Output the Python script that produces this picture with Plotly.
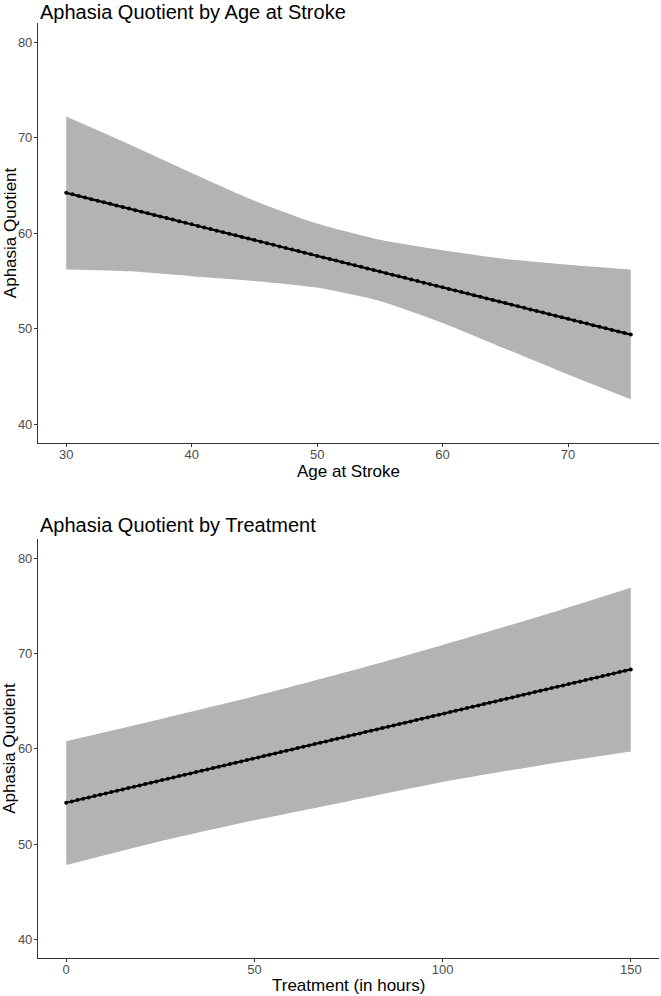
import plotly.graph_objects as go

# ---------------- data: top panel (Age at Stroke) ----------------
age = [30, 30.5, 31, 31.5, 32, 32.5, 33, 33.5, 34, 34.5, 35, 35.5, 36, 36.5, 37, 37.5,
       38, 38.5, 39, 39.5, 40, 40.5, 41, 41.5, 42, 42.5, 43, 43.5, 44, 44.5, 45, 45.5,
       46, 46.5, 47, 47.5, 48, 48.5, 49, 49.5, 50, 50.5, 51, 51.5, 52, 52.5, 53, 53.5,
       54, 54.5, 55, 55.5, 56, 56.5, 57, 57.5, 58, 58.5, 59, 59.5, 60, 60.5, 61, 61.5,
       62, 62.5, 63, 63.5, 64, 64.5, 65, 65.5, 66, 66.5, 67, 67.5, 68, 68.5, 69, 69.5,
       70, 70.5, 71, 71.5, 72, 72.5, 73, 73.5, 74, 74.5, 75]
aq_age = [64.22, 64.06, 63.89, 63.73, 63.56, 63.40, 63.23, 63.07, 62.90, 62.74,
          62.57, 62.41, 62.24, 62.08, 61.91, 61.75, 61.58, 61.42, 61.25, 61.09,
          60.92, 60.76, 60.59, 60.43, 60.26, 60.10, 59.93, 59.77, 59.60, 59.44,
          59.27, 59.11, 58.94, 58.78, 58.61, 58.45, 58.28, 58.12, 57.95, 57.79,
          57.62, 57.46, 57.29, 57.13, 56.96, 56.80, 56.63, 56.47, 56.30, 56.14,
          55.98, 55.81, 55.65, 55.48, 55.32, 55.15, 54.99, 54.82, 54.66, 54.49,
          54.33, 54.16, 54.00, 53.83, 53.67, 53.50, 53.34, 53.17, 53.01, 52.84,
          52.68, 52.51, 52.35, 52.18, 52.02, 51.85, 51.69, 51.52, 51.36, 51.19,
          51.03, 50.86, 50.70, 50.53, 50.37, 50.20, 50.04, 49.87, 49.71, 49.54,
          49.38]
band_age = [30, 35, 40, 45, 50, 55, 60, 65, 70, 75]
band_age_upper = [72.2, 69.3, 66.3, 63.4, 61.0, 59.3, 58.2, 57.3, 56.7, 56.2]
band_age_lower = [56.2, 56.0, 55.5, 55.0, 54.3, 52.9, 50.6, 47.9, 45.2, 42.6]

# ---------------- data: bottom panel (Treatment) ----------------
treat = [0, 1.5, 3, 4.5, 6, 7.5, 9, 10.5, 12, 13.5, 15, 16.5, 18, 19.5, 21, 22.5,
         24, 25.5, 27, 28.5, 30, 31.5, 33, 34.5, 36, 37.5, 39, 40.5, 42, 43.5, 45,
         46.5, 48, 49.5, 51, 52.5, 54, 55.5, 57, 58.5, 60, 61.5, 63, 64.5, 66, 67.5,
         69, 70.5, 72, 73.5, 75, 76.5, 78, 79.5, 81, 82.5, 84, 85.5, 87, 88.5, 90,
         91.5, 93, 94.5, 96, 97.5, 99, 100.5, 102, 103.5, 105, 106.5, 108, 109.5, 111,
         112.5, 114, 115.5, 117, 118.5, 120, 121.5, 123, 124.5, 126, 127.5, 129, 130.5,
         132, 133.5, 135, 136.5, 138, 139.5, 141, 142.5, 144, 145.5, 147, 148.5, 150]
aq_treat = [54.33, 54.47, 54.61, 54.75, 54.89, 55.03, 55.17, 55.31, 55.45, 55.59,
            55.73, 55.87, 56.01, 56.15, 56.29, 56.43, 56.57, 56.71, 56.85, 56.99,
            57.13, 57.27, 57.41, 57.55, 57.69, 57.83, 57.97, 58.11, 58.25, 58.39,
            58.53, 58.67, 58.81, 58.95, 59.09, 59.23, 59.37, 59.51, 59.65, 59.79,
            59.93, 60.07, 60.21, 60.35, 60.49, 60.63, 60.77, 60.91, 61.05, 61.19,
            61.33, 61.47, 61.61, 61.75, 61.89, 62.03, 62.17, 62.31, 62.45, 62.59,
            62.73, 62.87, 63.01, 63.15, 63.29, 63.43, 63.57, 63.71, 63.85, 63.99,
            64.13, 64.27, 64.41, 64.55, 64.69, 64.83, 64.97, 65.11, 65.25, 65.39,
            65.53, 65.67, 65.81, 65.95, 66.09, 66.23, 66.37, 66.51, 66.65, 66.79,
            66.93, 67.07, 67.21, 67.35, 67.49, 67.63, 67.77, 67.91, 68.05, 68.19,
            68.33]
band_treat = [0, 25, 50, 75, 100, 125, 150]
band_treat_upper = [60.8, 63.1, 65.5, 68.1, 70.9, 73.8, 76.9]
band_treat_lower = [47.8, 50.3, 52.5, 54.5, 56.5, 58.2, 59.7]

y_ticks = [40, 50, 60, 70, 80]
age_ticks = [30, 40, 50, 60, 70]
treat_ticks = [0, 50, 100, 150]

titles = ["Aphasia Quotient by Age at Stroke", "Aphasia Quotient by Treatment"]
x_titles = ["Age at Stroke", "Treatment (in hours)"]
y_title = "Aphasia Quotient"

# ---------------- figure ----------------
W, H = 661, 996
FONT = "Liberation Sans, Arial, Helvetica, sans-serif"
BAND = "#B3B3B3"

fig = go.Figure()

def add_panel(fig, bx, bu, bl, x, y, xa, ya):
    fig.add_trace(go.Scatter(x=bx, y=bl, mode="lines", line=dict(width=0, shape="spline", smoothing=0.6),
                             xaxis=xa, yaxis=ya, showlegend=False, hoverinfo="skip"))
    fig.add_trace(go.Scatter(x=bx, y=bu, mode="lines", line=dict(width=0, shape="spline", smoothing=0.6),
                             fill="tonexty", fillcolor=BAND,
                             xaxis=xa, yaxis=ya, showlegend=False, hoverinfo="skip"))
    fig.add_trace(go.Scatter(x=x, y=y, mode="lines+markers",
                             line=dict(color="black", width=2.2),
                             marker=dict(color="black", size=4),
                             xaxis=xa, yaxis=ya, showlegend=False))

add_panel(fig, band_age, band_age_upper, band_age_lower, age, aq_age, "x", "y")
add_panel(fig, band_treat, band_treat_upper, band_treat_lower, treat, aq_treat, "x2", "y2")

x0, x1 = 38 / W, 659 / W
top_dom = [1 - 443.3 / H, 1 - 23 / H]
bot_dom = [1 - 958.3 / H, 1 - 539.2 / H]

axis_common = dict(showline=True, linecolor="#333333", linewidth=1.1, ticks="outside",
                   ticklen=3, tickcolor="#333333", tickwidth=1, showgrid=False, zeroline=False,
                   tickfont=dict(family=FONT, size=13, color="#4D4D4D"), mirror=False)

fig.update_layout(
    width=W, height=H,
    margin=dict(l=0, r=0, t=0, b=0),
    paper_bgcolor="white", plot_bgcolor="white",
    xaxis=dict(domain=[x0, x1], range=[27.75, 77.25], tickvals=age_ticks, anchor="y",
               ticklabelstandoff=-4, **axis_common),
    yaxis=dict(domain=top_dom, range=[38, 82], tickvals=y_ticks, anchor="x",
               ticklabelstandoff=-1, **axis_common),
    xaxis2=dict(domain=[x0, x1], range=[-7.5, 157.5], tickvals=treat_ticks, anchor="y2",
                ticklabelstandoff=-4, **axis_common),
    yaxis2=dict(domain=bot_dom, range=[38, 82], tickvals=y_ticks, anchor="x2",
                ticklabelstandoff=-1, **axis_common),
)

ann = []
# panel titles
ann.append(dict(text=titles[0], x=x0, y=1 - 12 / H, xref="paper", yref="paper",
                xanchor="left", yanchor="middle", showarrow=False,
                font=dict(family=FONT, size=20, color="black")))
ann.append(dict(text=titles[1], x=x0, y=1 - 525 / H, xref="paper", yref="paper",
                xanchor="left", yanchor="middle", showarrow=False,
                font=dict(family=FONT, size=20, color="black")))
# x titles
ann.append(dict(text=x_titles[0], x=(x0 + x1) / 2, y=1 - 471 / H, xref="paper", yref="paper",
                xanchor="center", yanchor="middle", showarrow=False,
                font=dict(family=FONT, size=17, color="black")))
ann.append(dict(text=x_titles[1], x=(x0 + x1) / 2, y=1 - 985 / H, xref="paper", yref="paper",
                xanchor="center", yanchor="middle", showarrow=False,
                font=dict(family=FONT, size=17, color="black")))
# y titles
ann.append(dict(text=y_title, x=10 / W, y=sum(top_dom) / 2, xref="paper", yref="paper",
                xanchor="center", yanchor="middle", showarrow=False, textangle=-90,
                font=dict(family=FONT, size=17, color="black")))
ann.append(dict(text=y_title, x=10 / W, y=sum(bot_dom) / 2, xref="paper", yref="paper",
                xanchor="center", yanchor="middle", showarrow=False, textangle=-90,
                font=dict(family=FONT, size=17, color="black")))
fig.update_layout(annotations=ann)

fig.write_html("out.html", config={"displayModeBar": False},
               post_script="document.body.style.margin='0';document.body.style.overflow='hidden';")
